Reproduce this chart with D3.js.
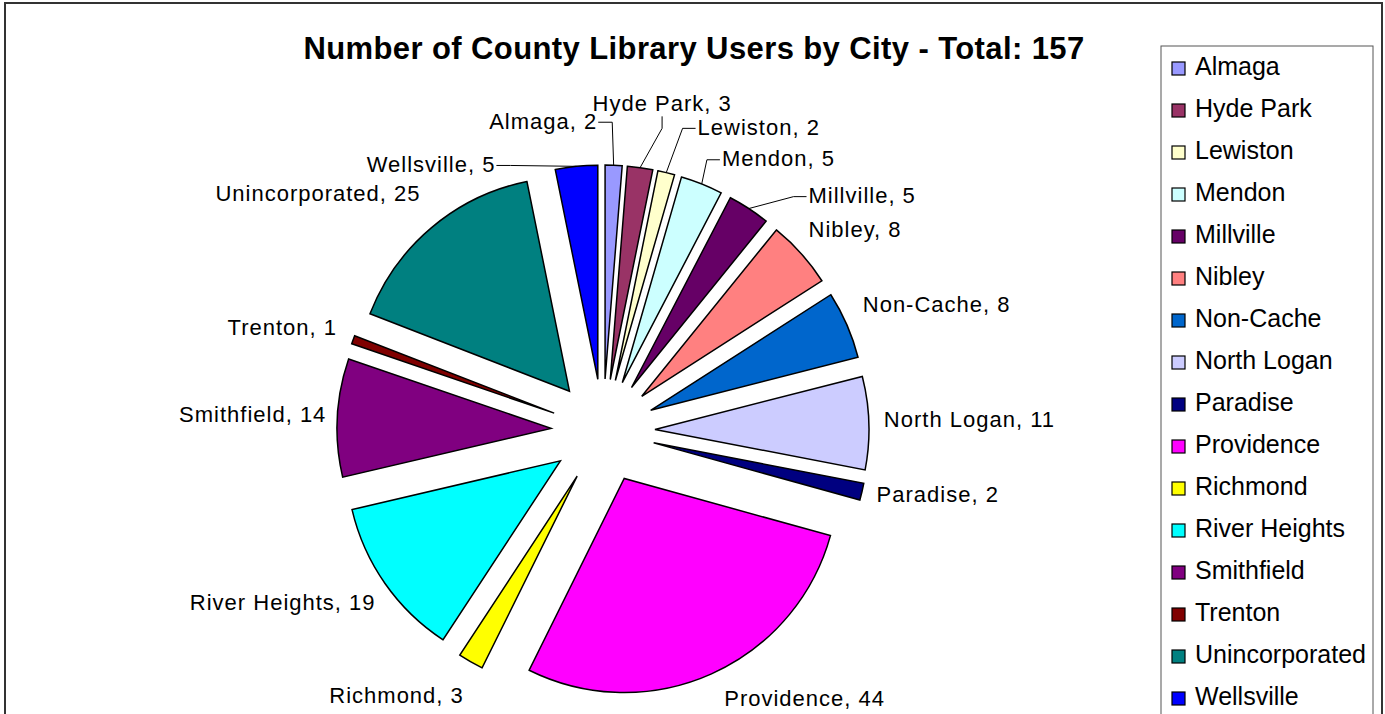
<!DOCTYPE html>
<html>
<head>
<meta charset="utf-8">
<script src="https://cdn.jsdelivr.net/npm/d3@7"></script>
<style>
  body { margin: 0; background: #fff; }
  text { font-family: "Liberation Sans", Arial, sans-serif; }
</style>
</head>
<body>
<svg id="chart" width="1385" height="714"></svg>
<script>
// data
const cities = ["Almaga", "Hyde Park", "Lewiston", "Mendon", "Millville", "Nibley", "Non-Cache",
  "North Logan", "Paradise", "Providence", "Richmond", "River Heights", "Smithfield", "Trenton",
  "Unincorporated", "Wellsville"];
const users = [2, 3, 2, 5, 5, 8, 8, 11, 2, 44, 3, 19, 14, 1, 25, 5];
const colors = ["#9999ff", "#993366", "#ffffcc", "#ccffff", "#660066", "#ff8080", "#0066cc",
  "#ccccff", "#000080", "#ff00ff", "#ffff00", "#00ffff", "#800080", "#800000", "#008080", "#0000ff"];

// label nudges (Excel moved some labels away from the slices)
const labelNudge = [[-71, -19], [20, -39], [28, -21], [15, -2], [52, 8], [-3, -7], [3, -10],
  [1, -3], [1, -3], [7, 2], [0, 12], [2, 5], [3, -2], [-3, -4], [-2, -15], [-144, 23]];
const leaderFrom = { "Almaga": "right", "Hyde Park": "below", "Lewiston": "left",
  "Mendon": "left", "Millville": "left", "Wellsville": "right" };

const svg = d3.select("#chart");
const cx = 603, cy = 431;
const radius = 214;
const explode = 52;
const total = d3.sum(users);

// outer frame
svg.append("rect")
  .attr("x", 5).attr("y", 3)
  .attr("width", 1377).attr("height", 730)
  .attr("fill", "none")
  .attr("stroke", "#333")
  .attr("stroke-width", 2);

svg.append("text")
  .attr("x", 694).attr("y", 59)
  .attr("text-anchor", "middle")
  .style("font-size", "31px")
  .style("font-weight", "bold")
  .style("letter-spacing", "0.4px")
  .text("Number of County Library Users by City - Total: " + total);

const pie = d3.pie().sort(null).value(d => d);
const arcs = pie(users);
const arc = d3.arc().innerRadius(0).outerRadius(radius);
const mid = d => (d.startAngle + d.endAngle) / 2;

const g = svg.append("g").attr("transform", `translate(${cx},${cy})`);
const leaderG = g.append("g");
const sliceG = g.append("g");
const labelG = g.append("g");

sliceG.selectAll("path")
  .data(arcs)
  .join("path")
  .attr("transform", d => `translate(${explode * Math.sin(mid(d))},${-explode * Math.cos(mid(d))})`)
  .attr("d", arc)
  .attr("fill", (d, i) => colors[i])
  .attr("stroke", "#000")
  .attr("stroke-width", 1.5)
  .attr("stroke-linejoin", "miter");

const labelR = radius + explode + 14;
const labels = labelG.selectAll("text")
  .data(arcs)
  .join("text")
  .attr("x", (d, i) => labelR * Math.sin(mid(d)) + labelNudge[i][0])
  .attr("y", (d, i) => -labelR * Math.cos(mid(d)) - 11 * Math.cos(mid(d)) + labelNudge[i][1])
  .attr("dominant-baseline", "central")
  .attr("text-anchor", d => {
    const s = Math.sin(mid(d));
    return s > 0.15 ? "start" : (s < -0.15 ? "end" : "middle");
  })
  .style("font-size", "22px")
  .style("letter-spacing", "1px")
  .text((d, i) => cities[i] + ", " + d.value);

// leader lines for the labels that were moved
labels.each(function(d, i) {
  const side = leaderFrom[cities[i]];
  if (!side) return;
  const bb = this.getBBox();
  const ly = bb.y + bb.height / 2 + 1;
  const p = [(radius + explode) * Math.sin(mid(d)), -(radius + explode) * Math.cos(mid(d))];
  let pts;
  if (side === "right") {
    const x0 = bb.x + bb.width;
    pts = [[x0 + 1, ly], [x0 + 15, ly], p];
  } else if (side === "left") {
    pts = [[bb.x - 2, ly], [bb.x - 15, ly], p];
  } else {
    const xm = bb.x + bb.width / 2;
    const yb = bb.y + bb.height;
    pts = [[xm, yb], [xm, yb + 12], p];
  }
  leaderG.append("path")
    .attr("d", d3.line()(pts))
    .attr("fill", "none")
    .attr("stroke", "#000")
    .attr("stroke-width", 1);
});

// legend
const legend = svg.append("g");
legend.append("rect")
  .attr("x", 1161).attr("y", 46)
  .attr("width", 212).attr("height", 700)
  .attr("fill", "#fff")
  .attr("stroke", "#555")
  .attr("stroke-width", 1);

const rowY = d3.scalePoint().domain(cities).range([75, 705]);
const rows = legend.selectAll("g.row")
  .data(cities)
  .join("g")
  .attr("class", "row")
  .attr("transform", d => `translate(0,${rowY(d)})`);
rows.append("rect")
  .attr("x", 1172).attr("y", -13)
  .attr("width", 13).attr("height", 13)
  .attr("fill", (d, i) => colors[i])
  .attr("stroke", "#000")
  .attr("stroke-width", 1.2);
rows.append("text")
  .attr("x", 1195).attr("y", 0)
  .style("font-size", "25px")
  .text(d => d);
</script>
</body>
</html>
